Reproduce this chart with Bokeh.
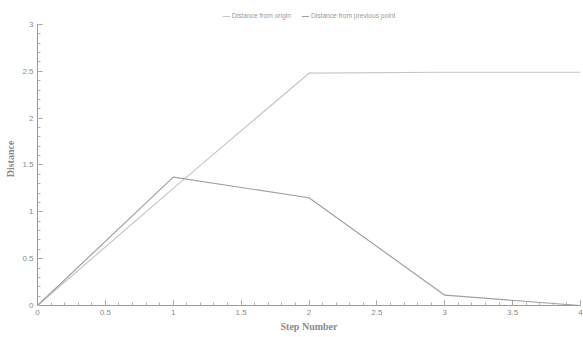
from bokeh.plotting import figure
from bokeh.models import Legend, LegendItem, FixedTicker
from bokeh.embed import file_html
from bokeh.resources import INLINE

steps = [0, 1, 2, 3, 4]
dist_origin = [0.0, 1.25, 2.48, 2.49, 2.49]
dist_prev = [0.0, 1.37, 1.15, 0.11, 0.0]
x_ticks = [0, 0.5, 1, 1.5, 2, 2.5, 3, 3.5, 4]
x_tick_labels = ["0", "0.5", "1", "1.5", "2", "2.5", "3", "3.5", "4"]
y_ticks = [0, 0.5, 1, 1.5, 2, 2.5, 3]
y_tick_labels = ["0", "0.5", "1", "1.5", "2", "2.5", "3"]
series_names = ["Distance from origin", "Distance from previous point"]

p = figure(width=583, height=337, output_backend="svg", toolbar_location=None,
           x_range=(0, 4), y_range=(0, 3.128),
           min_border_left=37, min_border_right=3, min_border_top=12, min_border_bottom=32)
p.background_fill_color = "white"
p.border_fill_color = "white"
p.outline_line_color = None
p.grid.visible = False

r1 = p.line(steps, dist_origin, line_color="#c9c4c6", line_width=1.2)
r2 = p.line(steps, dist_prev, line_color="#9aa2aa", line_width=1.2)

minor_x = [i / 10 for i in range(0, 41)]
minor_y = [i / 10 for i in range(0, 31)]
p.xaxis.ticker = FixedTicker(ticks=x_ticks, minor_ticks=minor_x)
p.yaxis.ticker = FixedTicker(ticks=y_ticks, minor_ticks=minor_y)
p.xaxis.major_label_overrides = {t: l for t, l in zip(x_ticks, x_tick_labels)}
p.yaxis.major_label_overrides = {t: l for t, l in zip(y_ticks, y_tick_labels)}
p.yaxis.bounds = (0, 3)

for ax in (p.xaxis, p.yaxis):
    ax.axis_line_color = "#9a9a9a"
    ax.major_tick_line_color = "#9a9a9a"
    ax.minor_tick_line_color = "#b0b0b0"
    ax.major_tick_in = 5
    ax.major_tick_out = 0
    ax.minor_tick_in = 3
    ax.minor_tick_out = 0
    ax.major_label_text_font_size = "6pt"
    ax.major_label_text_color = "#8a8a8a"
    ax.major_label_standoff = 4
    ax.axis_label_text_font = "Liberation Serif"
    ax.axis_label_text_font_style = "bold"
    ax.axis_label_text_font_size = "7.5pt"
    ax.axis_label_text_color = "#8a8a8a"
    ax.axis_label_standoff = 3

p.xaxis.axis_label = "Step Number"
p.yaxis.axis_label = "Distance"

legend = Legend(items=[LegendItem(label=series_names[0], renderers=[r1]),
                       LegendItem(label=series_names[1], renderers=[r2])],
                orientation="horizontal", location="top_center")
legend.label_text_font_size = "5pt"
legend.label_text_color = "#9a9a9a"
legend.glyph_width = 8
legend.glyph_height = 6
legend.label_height = 6
legend.label_standoff = 2
legend.spacing = 10
legend.padding = 0
legend.margin = 0
legend.border_line_color = None
legend.background_fill_alpha = 0
p.add_layout(legend, "center")

open("out.html", "w").write(file_html(p, INLINE))
